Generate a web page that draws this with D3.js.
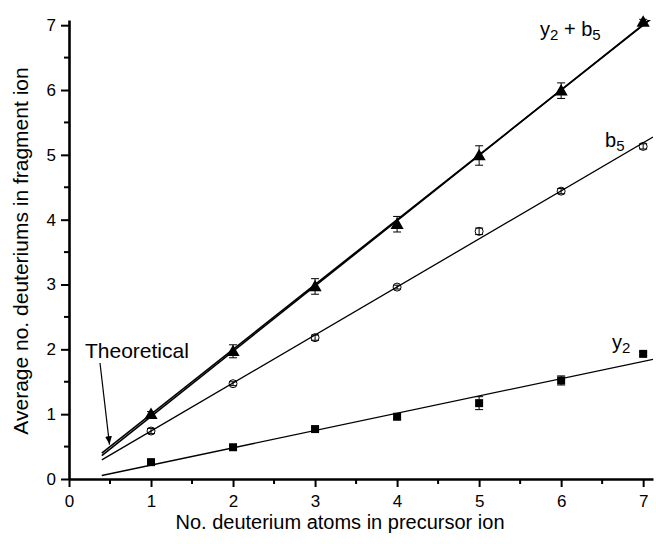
<!DOCTYPE html>
<html>
<head>
<meta charset="utf-8">
<script src="https://cdn.jsdelivr.net/npm/d3@7"></script>
<style>
  body { margin: 0; background: #fff; }
  text { font-family: "Liberation Sans", Arial, Helvetica, sans-serif; fill: #000; }
</style>
</head>
<body>
<script>
// precursor deuterium count
var precursor = [1, 2, 3, 4, 5, 6, 7];

// y2 + b5 (filled triangles)
var sumVals = [1.00, 1.97, 2.97, 3.93, 4.99, 5.99, 7.05];
var sumErr  = [0.04, 0.10, 0.12, 0.12, 0.15, 0.12, 0.04];

// b5 (open circles)
var b5Vals = [0.74, 1.47, 2.18, 2.96, 3.82, 4.44, 5.13];
var b5Err  = [0.04, 0.03, 0.04, 0.03, 0.05, 0.04, 0.04];

// y2 (filled squares)
var y2Vals = [0.26, 0.49, 0.77, 0.96, 1.17, 1.52, 1.93];
var y2Err  = [0.03, 0.03, 0.03, 0.04, 0.10, 0.07, 0.03];

var xTicks = [0, 1, 2, 3, 4, 5, 6, 7];
var yTicks = [0, 1, 2, 3, 4, 5, 6, 7];
var fitRange = [0.4, 7.12];
var theorySlope = 1;

var margin = {left: 69, top: 20, right: 3, bottom: 65};
var W = 656, H = 544;

var svg = d3.select("body").append("svg")
  .attr("width", W).attr("height", H);

var g = svg.append("g")
  .attr("transform", "translate(" + margin.left + "," + margin.top + ")");

var x = d3.scaleLinear().domain([0, 7.12]).range([0, 584]);
var y = d3.scaleLinear().domain([0, 7.08]).range([459, 0]);

svg.append("defs").append("clipPath").attr("id", "plot")
  .append("rect").attr("x", 0).attr("y", 0).attr("width", 584).attr("height", 459);

// least squares fit
function fit(vals) {
  var mx = d3.mean(precursor), my = d3.mean(vals);
  var sxy = d3.sum(precursor, function(d, i) { return (d - mx) * (vals[i] - my); });
  var sxx = d3.sum(precursor, function(d) { return (d - mx) * (d - mx); });
  var m = sxy / sxx;
  return {m: m, b: my - m * mx};
}

var lineGen = d3.line().x(function(d) { return x(d[0]); }).y(function(d) { return y(d[1]); });
function lineFor(m, b) {
  return fitRange.map(function(t) { return [t, m * t + b]; });
}

var lines = g.append("g").attr("clip-path", "url(#plot)");
[sumVals, b5Vals, y2Vals].forEach(function(vals, k) {
  var f = fit(vals);
  lines.append("path")
    .attr("d", lineGen(lineFor(f.m, f.b)))
    .attr("fill", "none").attr("stroke", "#000")
    .attr("stroke-width", k == 0 ? 1.6 : 1.3);
});
// theoretical line
lines.append("path")
  .attr("d", lineGen(lineFor(theorySlope, 0)))
  .attr("fill", "none").attr("stroke", "#000").attr("stroke-width", 1.6);

// error bars
function errorBars(vals, errs) {
  var eb = g.append("g").attr("stroke", "#000").attr("stroke-width", 1);
  precursor.forEach(function(d, i) {
    var cx = x(d), y1 = y(vals[i] + errs[i]), y2 = y(vals[i] - errs[i]);
    eb.append("line").attr("x1", cx).attr("x2", cx).attr("y1", y1).attr("y2", y2);
    eb.append("line").attr("x1", cx - 4).attr("x2", cx + 4).attr("y1", y1).attr("y2", y1);
    eb.append("line").attr("x1", cx - 4).attr("x2", cx + 4).attr("y1", y2).attr("y2", y2);
  });
}
errorBars(sumVals, sumErr);
errorBars(b5Vals, b5Err);
errorBars(y2Vals, y2Err);

// markers
g.selectAll(".tri").data(sumVals).enter().append("path")
  .attr("d", d3.symbol().type(d3.symbolTriangle).size(75))
  .attr("transform", function(d, i) { return "translate(" + x(precursor[i]) + "," + (y(d) + 1) + ")"; })
  .attr("fill", "#000");

g.selectAll(".circ").data(b5Vals).enter().append("circle")
  .attr("cx", function(d, i) { return x(precursor[i]); })
  .attr("cy", function(d) { return y(d); })
  .attr("r", 4)
  .attr("fill", "none").attr("stroke", "#000").attr("stroke-width", 1);

g.selectAll(".sq").data(y2Vals).enter().append("rect")
  .attr("x", function(d, i) { return x(precursor[i]) - 4; })
  .attr("y", function(d) { return y(d) - 4; })
  .attr("width", 8).attr("height", 8)
  .attr("fill", "#000");

// axes
var xAxis = g.append("g").attr("transform", "translate(0,459)")
  .call(d3.axisBottom(x).tickValues(xTicks).tickSize(8).tickSizeOuter(0).tickPadding(8));
var yAxis = g.append("g")
  .call(d3.axisLeft(y).tickValues(yTicks).tickSize(8).tickSizeOuter(0).tickPadding(5));

[xAxis, yAxis].forEach(function(a) {
  a.select(".domain").attr("stroke-width", 2.6);
  a.selectAll(".tick line").attr("stroke-width", 2);
  a.selectAll(".tick text").style("font-size", "17px")
    .style("font-family", "'Liberation Sans', Arial, sans-serif");
});

// minor ticks at halves
var halves = d3.range(0.5, 7.1, 1);
g.append("g").selectAll("line").data(halves).enter().append("line")
  .attr("x1", function(d) { return x(d); }).attr("x2", function(d) { return x(d); })
  .attr("y1", 459).attr("y2", 464).attr("stroke", "#000").attr("stroke-width", 2);
g.append("g").selectAll("line").data(halves).enter().append("line")
  .attr("y1", function(d) { return y(d); }).attr("y2", function(d) { return y(d); })
  .attr("x1", 0).attr("x2", -5).attr("stroke", "#000").attr("stroke-width", 2);

// axis titles
svg.append("text")
  .attr("x", margin.left + 271).attr("y", 529)
  .attr("text-anchor", "middle").style("font-size", "20px")
  .text("No. deuterium atoms in precursor ion");

svg.append("text")
  .attr("transform", "translate(28,251) rotate(-90)")
  .attr("text-anchor", "middle").style("font-size", "21px")
  .text("Average no. deuteriums in fragment ion");

// series labels
function seriesLabel(px, py, parts) {
  var t = svg.append("text").attr("x", px).attr("y", py).style("font-size", "20px");
  parts.forEach(function(p) {
    var s = t.append("tspan").text(p[0]);
    if (p[1]) s.attr("baseline-shift", "-28%").style("font-size", "15px");
  });
}
seriesLabel(540, 36, [["y", 0], ["2", 1], [" + b", 0], ["5", 1]]);
seriesLabel(605, 147, [["b", 0], ["5", 1]]);
seriesLabel(612, 349, [["y", 0], ["2", 1]]);

// theoretical annotation
svg.append("text").attr("x", 85).attr("y", 358).style("font-size", "21px").text("Theoretical");

svg.append("defs").append("marker").attr("id", "arr")
  .attr("viewBox", "0 0 10 10").attr("refX", 10).attr("refY", 5)
  .attr("markerWidth", 7).attr("markerHeight", 7).attr("orient", "auto")
  .append("path").attr("d", "M0,1 L10,5 L0,9 Z").attr("fill", "#000");

svg.append("line")
  .attr("x1", 100).attr("y1", 363)
  .attr("x2", margin.left + x(0.5) - 0.5).attr("y2", margin.top + y(0.5 * theorySlope) - 2)
  .attr("stroke", "#000").attr("stroke-width", 1.2)
  .attr("marker-end", "url(#arr)");
</script>
</body>
</html>
